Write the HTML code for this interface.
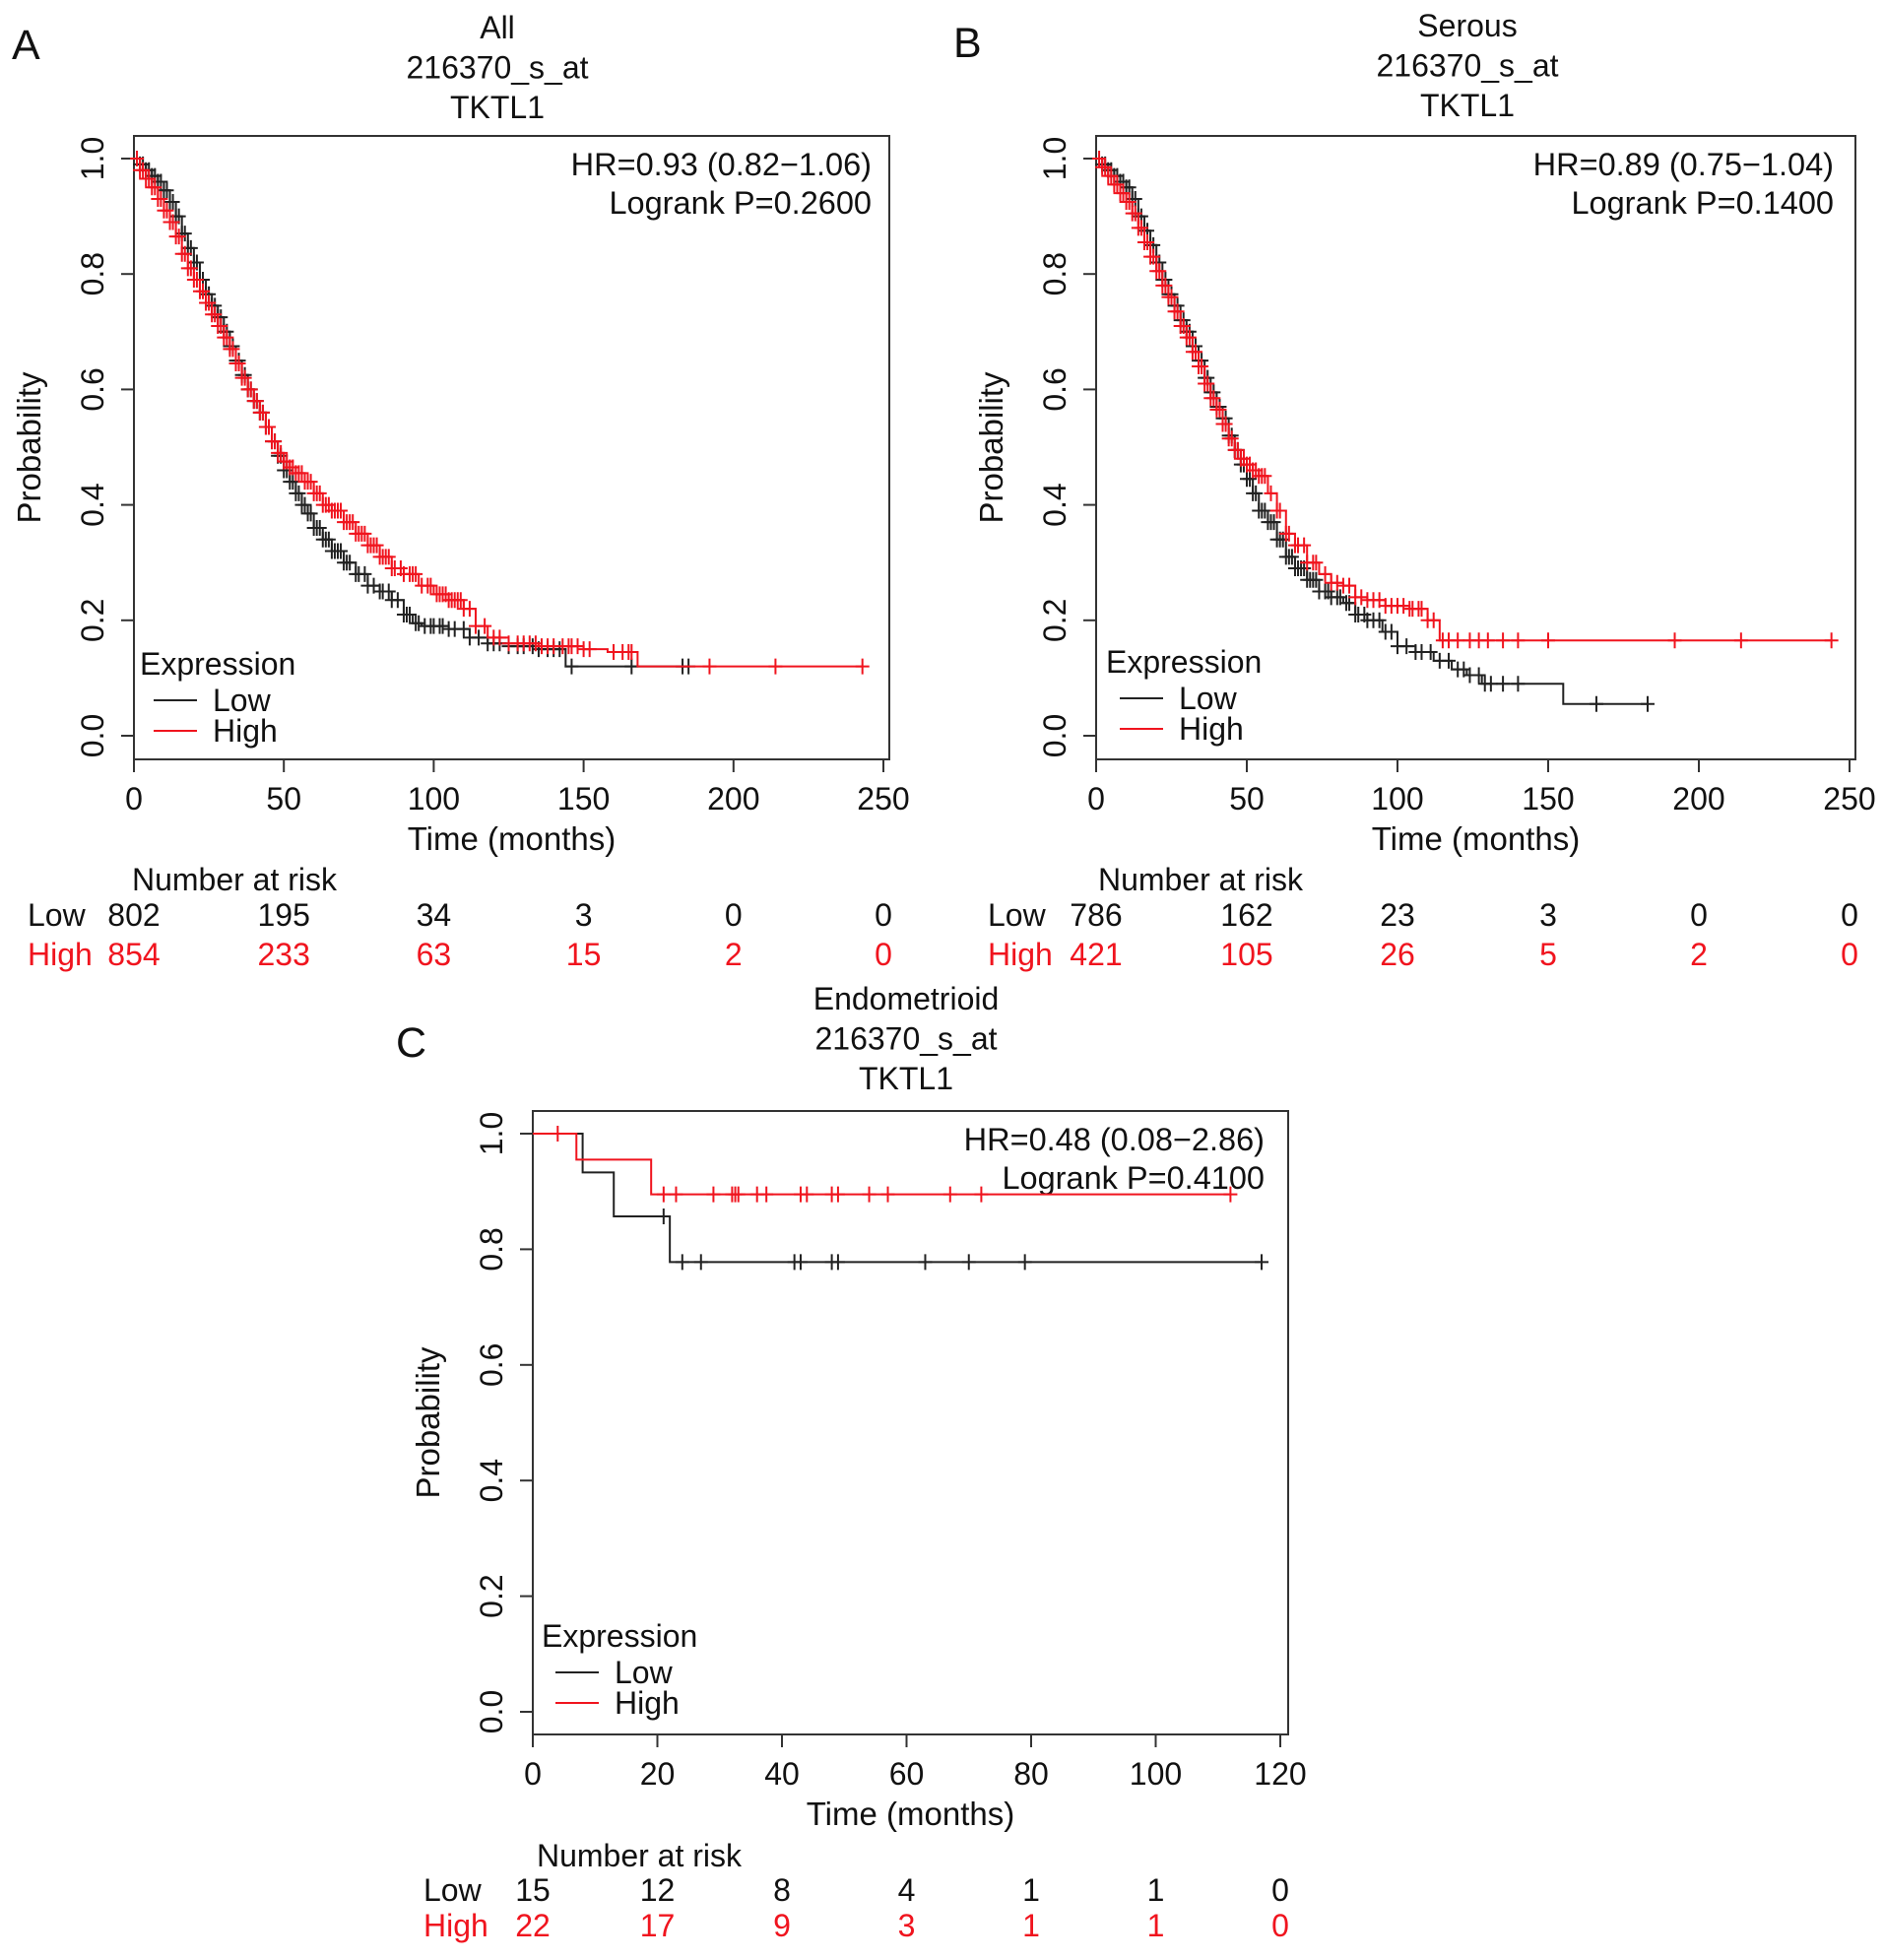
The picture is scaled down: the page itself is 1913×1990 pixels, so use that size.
<!DOCTYPE html>
<html><head><meta charset="utf-8">
<style>
html,body{margin:0;padding:0;background:#fff;}
svg{display:block;font-family:"Liberation Sans",Arial,sans-serif;}
</style></head>
<body>
<svg id="fig" width="1913" height="1990" viewBox="0 0 1913 1990" xmlns="http://www.w3.org/2000/svg"></svg>
<script>
// ---- Panel A data ----
const aLowT=[2,4,6,8,10,12,14,16,18,20,22,24,26,28,30,32,34,36,38,40,42,44,46,48,50,52,54,56,58,60,63,66,70,74,78,82,86,90,93,96,105,112,118,125,135,144];
const aLowS=[.99,.98,.97,.96,.945,.925,.90,.87,.845,.82,.79,.765,.745,.725,.70,.675,.65,.625,.60,.58,.56,.535,.51,.485,.46,.44,.42,.40,.385,.36,.34,.32,.30,.28,.26,.25,.235,.21,.195,.19,.185,.17,.16,.155,.15,.12];
const aLowEnd=185;
const aLowCens=[2,3,4,5,6,7,8,9,10,11,12,13,14,15,16,17,18,19,20,21,22,23,24,25,26,27,28,29,30,31,32,33,34,35,36,37,38,39,40,41,42,43,44,45,46,47,48,49,50,51,52,53,54,55,56,57,58,59,60,61,62,63,64,65,66,67,68,69,70,71,72,74,75,77,78,80,82,83,85,86,88,90,91,92,94,95,97,99,100,102,103,105,107,110,112,115,118,120,122,125,128,130,133,135,138,140,142,146,166,183,185];
const aHighT=[2,4,6,8,10,12,14,16,18,20,22,24,26,28,30,32,34,36,38,40,42,44,46,48,50,52,54,57,60,63,66,70,74,78,82,86,90,95,100,105,110,114,118,125,135,150,158,168];
const aHighS=[.98,.965,.95,.93,.91,.89,.865,.835,.81,.79,.77,.75,.73,.71,.69,.67,.645,.62,.60,.58,.56,.535,.51,.49,.475,.465,.455,.44,.42,.40,.39,.37,.35,.33,.31,.29,.28,.26,.245,.235,.22,.19,.17,.16,.155,.15,.145,.12];
const aHighEnd=243;
const aHighCens=[1,2,3,4,5,6,7,8,9,10,11,12,13,14,15,16,17,18,19,20,21,22,23,24,25,26,27,28,29,30,31,32,33,34,35,36,37,38,39,40,41,42,43,44,45,46,47,48,49,50,51,52,53,54,55,56,57,58,59,60,61,62,63,64,65,66,67,68,69,70,71,72,73,74,75,76,77,78,79,80,81,82,83,84,85,86,87,89,90,92,93,94,96,98,99,101,102,103,104,105,106,107,108,109,110,112,114,117,120,122,125,128,130,132,134,136,138,140,143,145,146,148,150,152,160,163,165,166,192,214,243];
const aRiskLow=["802","195","34","3","0","0"];
const aRiskHigh=["854","233","63","15","2","0"];
// ---- Panel B data ----
const bLowT=[2,4,6,8,10,12,14,16,18,20,22,24,26,28,30,32,34,36,38,40,42,44,46,48,50,52,54,57,60,63,66,70,74,78,82,86,90,95,100,106,112,118,123,128,155];
const bLowS=[.99,.98,.97,.96,.95,.93,.90,.875,.85,.82,.79,.765,.745,.72,.70,.675,.65,.62,.595,.57,.55,.52,.495,.47,.445,.42,.39,.37,.34,.31,.29,.27,.25,.24,.23,.21,.20,.18,.155,.145,.13,.115,.105,.09,.055];
const bLowEnd=183;
const bLowCens=[2,3,4,5,6,7,8,9,10,11,12,13,14,15,16,17,18,19,20,21,22,23,24,25,26,27,28,29,30,31,32,33,34,35,36,37,38,39,40,41,42,43,44,45,46,47,48,49,50,51,52,53,54,55,56,57,58,59,60,61,62,63,64,65,66,67,68,69,70,71,72,73,74,76,77,78,80,81,83,84,86,87,89,90,92,94,96,98,100,103,106,108,111,114,117,120,122,124,127,129,131,135,140,166,183];
const bHighT=[2,4,6,8,10,12,14,16,18,20,22,24,26,28,30,32,34,36,38,40,42,44,46,48,50,52,54,57,60,63,66,70,74,78,82,86,90,96,104,110,114];
const bHighS=[.985,.97,.955,.94,.925,.905,.88,.855,.83,.805,.78,.76,.735,.71,.69,.665,.64,.61,.585,.565,.54,.515,.495,.48,.47,.46,.45,.42,.39,.35,.33,.30,.28,.265,.26,.24,.235,.225,.22,.20,.165];
const bHighEnd=244;
const bHighCens=[1,2,3,4,5,6,7,8,9,10,11,12,13,14,15,16,17,18,19,20,21,22,23,24,25,26,27,28,29,30,31,32,33,34,35,36,37,38,39,40,41,42,43,44,45,46,47,48,49,50,51,52,53,54,55,56,58,60,61,63,64,66,67,69,70,72,73,76,78,80,82,84,86,88,90,92,94,96,98,100,102,104,105,107,108,110,112,115,117,120,124,127,130,135,140,150,192,214,244];
const bRiskLow=["786","162","23","3","0","0"];
const bRiskHigh=["421","105","26","5","2","0"];
// ---- Panel C data ----
const cLowT=[8,13,22];
const cLowS=[.933,.857,.778];
const cLowEnd=117;
const cLowCens=[21,24,27,42,43,48,49,63,70,79,117];
const cHighT=[7,19];
const cHighS=[.955,.895];
const cHighEnd=112;
const cHighCens=[4,21,23,29,32,32.5,33,36,37.5,43,44,48,49,54,57,67,72,112];
const cRiskLow=["15","12","8","4","1","1","0"];
const cRiskHigh=["22","17","9","3","1","1","0"];
const abTicks=[0,50,100,150,200,250];
const cTicks=[0,20,40,60,80,100,120];
const yTicks=["0.0","0.2","0.4","0.6","0.8","1.0"];

const NS="http://www.w3.org/2000/svg";
const svg=document.getElementById('fig');
function el(tag,attrs,parent,text){const e=document.createElementNS(NS,tag);for(const k in attrs)e.setAttribute(k,attrs[k]);if(text!==undefined)e.textContent=text;(parent||svg).appendChild(e);return e;}
const RED="#f0141e", BLK="#222";

function panel(cfg){
  const g=el('g',{});
  
  
  const X=t=>cfg.x0+t*(cfg.x1-cfg.x0)/cfg.xmax;
  const Y=s=>cfg.y0-s*(cfg.y0-cfg.y1);
  const box=el('rect',{x:cfg.bl,y:cfg.bt,width:cfg.br-cfg.bl,height:cfg.bb-cfg.bt,fill:'none',stroke:'#333','stroke-width':2},g);
  
  
  const L=el('text',{x:cfg.lx,y:cfg.ly,'font-size':43,fill:'#111'},g,cfg.letter);
  
  
  cfg.title.forEach((t,i)=>{const e=el('text',{x:cfg.tx,y:cfg.ty+i*40.5,'font-size':32,'text-anchor':'middle',fill:'#111'},g,t);
    
    });
  cfg.xticks.forEach(v=>{
    el('line',{x1:X(v),x2:X(v),y1:cfg.bb,y2:cfg.bb+13,stroke:'#333','stroke-width':2},g);
    const e=el('text',{x:X(v),y:cfg.bb+51,'font-size':32,'text-anchor':'middle',fill:'#111'},g,String(v));
    
    
  });
  el('line',{x1:X(cfg.xticks[0]),x2:X(cfg.xticks[cfg.xticks.length-1]),y1:cfg.bb,y2:cfg.bb,stroke:'#333','stroke-width':2},g);
  const xt=el('text',{x:(cfg.bl+cfg.br)/2,y:cfg.bb+92,'font-size':33,'text-anchor':'middle',fill:'#111'},g,'Time (months)');
  
  
  yTicks.forEach(lbl=>{const v=parseFloat(lbl);
    el('line',{x1:cfg.bl,x2:cfg.bl-13,y1:Y(v),y2:Y(v),stroke:'#333','stroke-width':2},g);
    const e=el('text',{x:0,y:0,'font-size':32,'text-anchor':'middle',fill:'#111',transform:`translate(${cfg.bl-31},${Y(v)}) rotate(-90)`},g,lbl);
    
    
  });
  const yt=el('text',{x:0,y:0,'font-size':33,'text-anchor':'middle',fill:'#111',transform:`translate(${cfg.bl-95},${(cfg.bt+cfg.bb)/2}) rotate(-90)`},g,'Probability');
  
  
  cfg.hr.forEach((t,i)=>{const e=el('text',{x:cfg.hrx,y:cfg.bt+40+i*39,'font-size':32.5,'text-anchor':'end',fill:'#111'},g,t);
    
    });
  function curve(T,S,end,cens,color,name){
    let d=`M${X(0)},${Y(1)}`;
    T.forEach((t,i)=>{d+=` H${X(t)} V${Y(S[i])}`;});
    d+=` H${X(end)}`;
    const p=el('path',{d:d,fill:'none',stroke:color,'stroke-width':2},g);
    
    
    const sAt=t=>{let s=1;T.forEach((tt,i)=>{if(tt<=t)s=S[i];});return s;};
    cens.forEach(c=>{const cx=X(c),cy=Y(sAt(c));
      const m=el('path',{d:`M${cx-7},${cy} H${cx+7} M${cx},${cy-8} V${cy+8}`,stroke:color,'stroke-width':2,fill:'none'},g);
      
      });
  }
  curve(cfg.lowT,cfg.lowS,cfg.lowEnd,cfg.lowC,BLK,'low');
  curve(cfg.highT,cfg.highS,cfg.highEnd,cfg.highC,RED,'high');
  const lg=el('g',{},g);
  
  
  el('text',{x:cfg.lgx,y:cfg.lgy+11,'font-size':32,fill:'#111'},lg,'Expression');
  [['Low',BLK],['High',RED]].forEach((r,i)=>{const yy=cfg.lgy+37+i*31;
    el('line',{x1:cfg.lgx+14,x2:cfg.lgx+58,y1:yy,y2:yy,stroke:r[1],'stroke-width':2},lg);
    const e=el('text',{x:cfg.lgx+74,y:yy+11,'font-size':32,fill:'#111'},lg,r[0]);
    
    });
  const rt=el('g',{},g);
  
  
  el('text',{x:cfg.rhx,y:cfg.rhy+11,'font-size':32,'text-anchor':'middle',fill:'#111'},rt,'Number at risk');
  el('text',{x:cfg.rlx,y:cfg.rly+11,'font-size':32,fill:'#111'},rt,'Low');
  el('text',{x:cfg.rlx,y:cfg.rly+cfg.rgap+11,'font-size':32,fill:RED},rt,'High');
  cfg.xticks.forEach((v,i)=>{
    el('text',{x:X(v),y:cfg.rly+11,'font-size':32,'text-anchor':'middle',fill:'#111'},rt,cfg.riskLow[i]);
    el('text',{x:X(v),y:cfg.rly+cfg.rgap+11,'font-size':32,'text-anchor':'middle',fill:RED},rt,cfg.riskHigh[i]);
  });
}

panel({name:'panel-a-all',letter:'A',lx:12,ly:60,title:['All','216370_s_at','TKTL1'],tx:505,ty:39,
  bl:136,br:903,bt:138,bb:771,x0:136,x1:897,xmax:250,y0:747,y1:161,xticks:abTicks,
  hr:['HR=0.93 (0.82\u22121.06)','Logrank P=0.2600'],hrx:885,
  lowT:aLowT,lowS:aLowS,lowEnd:aLowEnd,lowC:aLowCens,highT:aHighT,highS:aHighS,highEnd:aHighEnd,highC:aHighCens,
  lgx:142,lgy:674,rhx:238,rhy:893,rlx:28,rly:929,rgap:40,riskLow:aRiskLow,riskHigh:aRiskHigh});
panel({name:'panel-b-serous',letter:'B',lx:968,ly:58,title:['Serous','216370_s_at','TKTL1'],tx:1490,ty:37,
  bl:1113,br:1884,bt:138,bb:771,x0:1113,x1:1878,xmax:250,y0:747,y1:161,xticks:abTicks,
  hr:['HR=0.89 (0.75\u22121.04)','Logrank P=0.1400'],hrx:1862,
  lowT:bLowT,lowS:bLowS,lowEnd:bLowEnd,lowC:bLowCens,highT:bHighT,highS:bHighS,highEnd:bHighEnd,highC:bHighCens,
  lgx:1123,lgy:672,rhx:1219,rhy:893,rlx:1003,rly:929,rgap:40,riskLow:bRiskLow,riskHigh:bRiskHigh});
panel({name:'panel-c-endometrioid',letter:'C',lx:402,ly:1073,title:['Endometrioid','216370_s_at','TKTL1'],tx:920,ty:1025,
  bl:541,br:1308,bt:1128,bb:1761,x0:541,x1:1300,xmax:120,y0:1738,y1:1151,xticks:cTicks,
  hr:['HR=0.48 (0.08\u22122.86)','Logrank P=0.4100'],hrx:1284,
  lowT:cLowT,lowS:cLowS,lowEnd:cLowEnd,lowC:cLowCens,highT:cHighT,highS:cHighS,highEnd:cHighEnd,highC:cHighCens,
  lgx:550,lgy:1661,rhx:649,rhy:1884,rlx:430,rly:1919,rgap:36,riskLow:cRiskLow,riskHigh:cRiskHigh});
</script>
</body></html>
